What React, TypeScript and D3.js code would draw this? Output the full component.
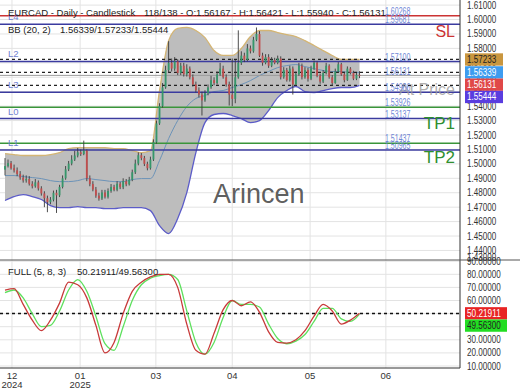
import React from 'react';
import * as d3 from 'd3';

// EURCAD daily candles (118 bars)
const opens = [
  1.4960, 1.4985, 1.5005, 1.4970, 1.4955, 1.4930, 1.4905, 1.4885, 1.4895, 1.4862,
  1.4845, 1.4872, 1.4830, 1.4795, 1.4762, 1.4735, 1.4752, 1.4800, 1.4782, 1.4840,
  1.4900, 1.4962, 1.5002, 1.5030, 1.5058, 1.5080, 1.5068, 1.5092, 1.4900, 1.4860,
  1.4822, 1.4780, 1.4760, 1.4802, 1.4772, 1.4812, 1.4840, 1.4820, 1.4862, 1.4838,
  1.4880, 1.4858, 1.4890, 1.4942, 1.5002, 1.5060, 1.5040, 1.5000, 1.4970, 1.5030,
  1.5150, 1.5280, 1.5400, 1.5530, 1.5650, 1.5700, 1.5660, 1.5710, 1.5630, 1.5680,
  1.5620, 1.5660, 1.5600, 1.5550, 1.5510, 1.5480, 1.5440, 1.5490, 1.5530, 1.5580,
  1.5560, 1.5620, 1.5660, 1.5600, 1.5550, 1.5480, 1.5450, 1.5600, 1.5700, 1.5750,
  1.5720, 1.5800, 1.5780, 1.5860, 1.5900, 1.5750, 1.5700, 1.5740, 1.5680, 1.5720,
  1.5700, 1.5730, 1.5600, 1.5650, 1.5580, 1.5660, 1.5550, 1.5620, 1.5680, 1.5600,
  1.5650, 1.5590, 1.5660, 1.5700, 1.5610, 1.5570, 1.5630, 1.5680, 1.5600, 1.5560,
  1.5640, 1.5690, 1.5620, 1.5580, 1.5660, 1.5630, 1.5590, 1.56167,
];
const highs = [
  1.5040, 1.5030, 1.5020, 1.4995, 1.4975, 1.4950, 1.4925, 1.4920, 1.4915, 1.4880,
  1.4895, 1.4885, 1.4845, 1.4810, 1.4780, 1.4770, 1.4815, 1.4820, 1.4855, 1.4920,
  1.4985, 1.5020, 1.5060, 1.5090, 1.5110, 1.5100, 1.5161, 1.5100, 1.4920, 1.4880,
  1.4840, 1.4800, 1.4820, 1.4820, 1.4830, 1.4860, 1.4855, 1.4880, 1.4875, 1.4900,
  1.4895, 1.4910, 1.4960, 1.5030, 1.5080, 1.5075, 1.5055, 1.5015, 1.5050, 1.5170,
  1.5300, 1.5420, 1.5560, 1.5680, 1.5850, 1.5730, 1.5740, 1.5725, 1.5700, 1.5700,
  1.5690, 1.5675, 1.5620, 1.5570, 1.5530, 1.5500, 1.5510, 1.5550, 1.5610, 1.5600,
  1.5640, 1.5700, 1.5680, 1.5620, 1.5570, 1.5730, 1.5720, 1.5925, 1.5780, 1.5770,
  1.5830, 1.5820, 1.5880, 1.5945, 1.5920, 1.5770, 1.5760, 1.5760, 1.5740, 1.5735,
  1.5750, 1.5745, 1.5670, 1.5665, 1.5680, 1.5675, 1.5640, 1.5700, 1.5695, 1.5670,
  1.5665, 1.5680, 1.5715, 1.5710, 1.5625, 1.5650, 1.5700, 1.5690, 1.5615, 1.5660,
  1.5705, 1.5700, 1.5635, 1.5675, 1.5670, 1.5645, 1.5630, 1.56421,
];
const lows = [
  1.4920, 1.4975, 1.4960, 1.4940, 1.4915, 1.4890, 1.4870, 1.4870, 1.4850, 1.4830,
  1.4835, 1.4815, 1.4780, 1.4700, 1.4665, 1.4720, 1.4740, 1.4660, 1.4770, 1.4830,
  1.4890, 1.4950, 1.4990, 1.5020, 1.5045, 1.5055, 1.5060, 1.4880, 1.4845, 1.4810,
  1.4765, 1.4745, 1.4750, 1.4760, 1.4760, 1.4800, 1.4810, 1.4810, 1.4825, 1.4825,
  1.4845, 1.4850, 1.4880, 1.4930, 1.4990, 1.5025, 1.4985, 1.4955, 1.4960, 1.5020,
  1.5140, 1.5270, 1.5390, 1.5520, 1.5630, 1.5640, 1.5645, 1.5615, 1.5615, 1.5605,
  1.5605, 1.5585, 1.5535, 1.5495, 1.5460, 1.5335, 1.5430, 1.5475, 1.5520, 1.5545,
  1.5550, 1.5610, 1.5590, 1.5535, 1.5404, 1.5400, 1.5420, 1.5590, 1.5685, 1.5705,
  1.5710, 1.5765, 1.5770, 1.5850, 1.5740, 1.5680, 1.5690, 1.5665, 1.5670, 1.5690,
  1.5690, 1.5585, 1.5590, 1.5570, 1.5570, 1.5480, 1.5540, 1.5610, 1.5585, 1.5590,
  1.5570, 1.5580, 1.5650, 1.5600, 1.5555, 1.5560, 1.5620, 1.5590, 1.5540, 1.5555,
  1.5630, 1.5610, 1.5565, 1.5575, 1.5620, 1.5580, 1.5580, 1.55940,
];
const closes = [
  1.4985, 1.5005, 1.4970, 1.4955, 1.4930, 1.4905, 1.4885, 1.4895, 1.4862, 1.4845,
  1.4872, 1.4830, 1.4795, 1.4762, 1.4735, 1.4752, 1.4800, 1.4782, 1.4840, 1.4900,
  1.4962, 1.5002, 1.5030, 1.5058, 1.5080, 1.5068, 1.5092, 1.4900, 1.4860, 1.4822,
  1.4780, 1.4760, 1.4802, 1.4772, 1.4812, 1.4840, 1.4820, 1.4862, 1.4838, 1.4880,
  1.4858, 1.4890, 1.4942, 1.5002, 1.5060, 1.5040, 1.5000, 1.4970, 1.5030, 1.5150,
  1.5280, 1.5400, 1.5530, 1.5650, 1.5700, 1.5660, 1.5710, 1.5630, 1.5680, 1.5620,
  1.5660, 1.5600, 1.5550, 1.5510, 1.5480, 1.5440, 1.5490, 1.5530, 1.5580, 1.5560,
  1.5620, 1.5660, 1.5600, 1.5550, 1.5480, 1.5450, 1.5600, 1.5700, 1.5750, 1.5720,
  1.5800, 1.5780, 1.5860, 1.5900, 1.5750, 1.5700, 1.5740, 1.5680, 1.5720, 1.5700,
  1.5730, 1.5600, 1.5650, 1.5580, 1.5660, 1.5550, 1.5620, 1.5680, 1.5600, 1.5650,
  1.5590, 1.5660, 1.5700, 1.5610, 1.5570, 1.5630, 1.5680, 1.5600, 1.5560, 1.5640,
  1.5690, 1.5620, 1.5580, 1.5660, 1.5630, 1.5590, 1.56167, 1.56131,
];

// Bollinger (20, 2) and Full stochastic (5, 8, 3), read every 3rd bar
const sampleStep = 3;
const bbUpper = [
  1.5071, 1.5064, 1.5058, 1.5058, 1.5058, 1.5064, 1.5078, 1.5106, 1.5113, 1.5113,
  1.5113, 1.5113, 1.5106, 1.5106, 1.5092, 1.5078, 1.5092, 1.5508, 1.5854, 1.5938,
  1.5945, 1.5924, 1.5875, 1.5785, 1.5751, 1.5751, 1.5799, 1.5882, 1.5924, 1.5924,
  1.5910, 1.5896, 1.5882, 1.5854, 1.5820, 1.5785, 1.5751, 1.5723, 1.5723, 1.57233,
];
const bbMid = [
  1.4919, 1.4919, 1.4912, 1.4905, 1.4898, 1.4884, 1.4877, 1.4877, 1.4884, 1.4898,
  1.4891, 1.4884, 1.4877, 1.4877, 1.4891, 1.4898, 1.4898, 1.5023, 1.5175, 1.5300,
  1.5397, 1.5453, 1.5473, 1.5501, 1.5508, 1.5529, 1.5550, 1.5577, 1.5612, 1.5640,
  1.5667, 1.5681, 1.5688, 1.5674, 1.5660, 1.5647, 1.5640, 1.5640, 1.5633, 1.56339,
];
const bbLower = [
  1.4746, 1.4773, 1.4787, 1.4773, 1.4753, 1.4711, 1.4697, 1.4697, 1.4704, 1.4697,
  1.4697, 1.4690, 1.4690, 1.4697, 1.4697, 1.4697, 1.4676, 1.4572, 1.4517, 1.4621,
  1.4801, 1.5078, 1.5286, 1.5342, 1.5349, 1.5335, 1.5314, 1.5286, 1.5300, 1.5369,
  1.5459, 1.5508, 1.5536, 1.5501, 1.5494, 1.5508, 1.5522, 1.5529, 1.5529, 1.55444,
];
const stochK = [
  68, 69, 57, 45, 37, 45, 58, 74, 72, 62,
  41, 20, 28, 50, 67, 74, 78, 80, 80, 70,
  42, 22, 19, 35, 53, 60, 56, 59, 51, 36,
  28, 27.5, 30, 37, 48, 57, 52, 42, 45, 50.21911,
];
const stochD = [
  66, 68, 62, 50, 40, 41, 52, 68, 76, 67,
  48, 27, 22, 40, 60, 72, 77, 79, 80, 76,
  52, 28, 19, 28, 47, 60, 57, 57, 55, 42,
  31, 27, 29, 34, 44, 54, 54, 46, 44, 49.563,
];

// axis ticks
const priceTicks = [1.61, 1.6, 1.59, 1.58, 1.57, 1.56, 1.55, 1.54, 1.53, 1.52, 1.51, 1.5, 1.49, 1.48, 1.47, 1.46, 1.45, 1.44, 1.43];
const oscTicks = [90, 80, 70, 60, 50, 40, 30, 20, 10];
const monthLabels = ['12', '01', '03', '04', '05', '06'];
const yearLabels = ['2024', '2025', '', '', '', ''];
const monthBars = [2.3, 24.8, 49.8, 75, 100.7, 125.7];

// horizontal levels
const levelValues = [1.60268, 1.59681, 1.571, 1.56131, 1.54966, 1.53926, 1.53137, 1.51437, 1.50965];
const levelNames = ['', 'L4', 'L2', '', 'L3', '', 'L0', '', 'L1'];
const levelKinds = ['sl', 'level', 'level', 'close', 'level', 'tp', 'level', 'tp', 'level'];
const bbNow = [1.57233, 1.56339, 1.55444];
const priceBoxes = [1.57233, 1.56339, 1.56131, 1.55444];
const priceBoxFill = ['#c9963f', '#3d9cf0', '#e04848', '#5a3ddf'];
const priceBoxText = ['#222', '#fff', '#fff', '#fff'];
const oscBoxes = [50.21911, 49.563];
const oscBoxFill = ['#e82424', '#22dd22'];
const oscBoxText = ['#fff', '#222'];

const kindColor: Record<string, string> = { sl: '#cc3333', level: '#3b3b9f', tp: '#3a953a', close: '#9a9a9a' };

const W = 520;
const H = 390;
const plotR = 460;
const mainBottom = 260;
const oscTop = 260;
const oscBottom = 368;
const sans = "'Liberation Sans', Arial, sans-serif";

// the chart's axis numbers are set in a condensed face; squeeze the glyphs to match
const squeeze = (s: string, perDigit: number) => {
  const digits = s.replace(/[^0-9]/g, '').length;
  return digits * perDigit + (s.length - digits) * perDigit * 0.5;
};

function stackBoxes(ys: number[], h: number) {
  const out: number[] = [];
  ys.forEach((v, i) => {
    out.push(i === 0 ? v : Math.max(v, out[i - 1] + h));
  });
  return out;
}

export default function App() {
  const x = d3.scaleLinear().domain([0, 117]).range([5, 359.5]);
  const y = d3.scaleLinear().domain([1.43, 1.61]).range([264.9, 5.1]);
  const yo = d3.scaleLinear().domain([10, 90]).range([366, 261.2]);

  const sx = (_: number, j: number) => x(j * sampleStep);
  const band = d3.area<number>().x(sx).y0((_, j) => y(bbLower[j])).y1((d) => y(d)).curve(d3.curveMonotoneX);
  const priceLine = d3.line<number>().x(sx).y((d) => y(d)).curve(d3.curveMonotoneX);
  const oscLine = d3.line<number>().x(sx).y((d) => yo(d)).curve(d3.curveMonotoneX);

  const boxH = 12.3;
  const pbY = stackBoxes(priceBoxes.map((v) => y(v)), boxH);
  const obY = stackBoxes(oscBoxes.map((v) => yo(v)), boxH);

  const axisText = (s: string, key: string, ty: number, fill = '#333') => (
    <text key={key} x={467} y={ty} dy="0.35em" fontSize={10} fill={fill}
      textLength={squeeze(s, 4.5)} lengthAdjust="spacingAndGlyphs">{s}</text>
  );

  return (
    <svg width={W} height={H} style={{ position: 'absolute', left: 0, top: 0, background: '#fff' }} fontFamily={sans}>
      <defs>
        <clipPath id="mainClip"><rect x={0} y={0} width={plotR} height={mainBottom} /></clipPath>
        <clipPath id="oscClip"><rect x={0} y={oscTop} width={plotR} height={oscBottom - oscTop} /></clipPath>
      </defs>

      {/* grid */}
      <g clipPath="url(#mainClip)" stroke="#e3e3e3" strokeWidth={1}>
        {priceTicks.map((t) => <line key={t} x1={0} x2={plotR} y1={y(t)} y2={y(t)} />)}
        {monthBars.map((b) => <line key={b} x1={x(b)} x2={x(b)} y1={0} y2={mainBottom} />)}
      </g>
      <g clipPath="url(#oscClip)" stroke="#e3e3e3" strokeWidth={1}>
        {oscTicks.map((t) => <line key={t} x1={0} x2={plotR} y1={yo(t)} y2={yo(t)} />)}
        {monthBars.map((b) => <line key={b} x1={x(b)} x2={x(b)} y1={oscTop} y2={oscBottom} />)}
      </g>

      {/* main panel */}
      <g clipPath="url(#mainClip)">
        <path d={band(bbUpper) || ''} fill="#bdbdbd" />
        <path d={priceLine(bbUpper) || ''} fill="none" stroke="#d4b574" strokeWidth={1.3} />
        <path d={priceLine(bbLower) || ''} fill="none" stroke="#5c5cc8" strokeWidth={1.3} />
        <path d={priceLine(bbMid) || ''} fill="none" stroke="#6c93b8" strokeWidth={1} />

        {levelValues.map((v, i) => (
          <line key={v} x1={0} x2={plotR} y1={y(v)} y2={y(v)} stroke={kindColor[levelKinds[i]]}
            strokeWidth={levelKinds[i] === 'close' ? 1 : 1.5} />
        ))}
        {bbNow.map((v) => (
          <line key={v} x1={0} x2={plotR} y1={y(v)} y2={y(v)} stroke="#222" strokeWidth={1.2} strokeDasharray="3,3" />
        ))}

        {closes.map((c, i) => {
          const o = opens[i];
          const up = c >= o;
          const top = y(Math.max(o, c));
          const bot = y(Math.min(o, c));
          const col = up ? '#35976a' : '#c04d4d';
          return (
            <g key={i}>
              <line x1={x(i)} x2={x(i)} y1={y(highs[i])} y2={y(lows[i])} stroke="#3a3a3a" strokeWidth={0.9} />
              <rect x={x(i) - 0.9} y={top} width={1.8} height={Math.max(1, bot - top)} fill={col} />
            </g>
          );
        })}

        <text x={213} y={203} fontSize={27} fill="#4a4a4a" fillOpacity={0.9}>Arincen</text>
        <text x={455} y={y(1.54966) + 3} fontSize={16} fill="#9a9a9a" fillOpacity={0.8} textAnchor="end">At Price</text>
        <text x={455} y={y(1.59681) + 13} fontSize={16} fill="#cc3333" textAnchor="end">SL</text>
        <text x={455} y={y(1.53137) + 10} fontSize={17} fill="#2f8f2f" textAnchor="end">TP1</text>
        <text x={455} y={y(1.50965) + 13} fontSize={17} fill="#2f8f2f" textAnchor="end">TP2</text>

        {levelValues.map((v) => {
          const s = v.toFixed(5);
          return (
            <text key={'lv' + v} x={385} y={y(v) - 0.8} fontSize={10} fill="#7088d6"
              textLength={squeeze(s, 3.9)} lengthAdjust="spacingAndGlyphs">{s}</text>
          );
        })}
        {levelValues.map((v, i) => levelNames[i] ? (
          <text key={'ln' + v} x={8} y={y(v) - 4} fontSize={9.5} fill="#6f7fd0">{levelNames[i]}</text>
        ) : null)}

        <text x={8} y={15.5} fontSize={9.5} fill="#222">EURCAD - Daily - Candlestick</text>
        <text x={144} y={15.5} fontSize={9.5} fill="#222">118/138 - O:1.56167 - H:1.56421 - L:1.55940 - C:1.56131</text>
        <text x={8} y={32.5} fontSize={9.5} fill="#222">BB (20, 2)</text>
        <text x={60} y={32.5} fontSize={9.5} fill="#222">1.56339/1.57233/1.55444</text>
      </g>

      {/* oscillator panel */}
      <g clipPath="url(#oscClip)">
        <line x1={0} x2={plotR} y1={yo(50)} y2={yo(50)} stroke="#111" strokeWidth={1.5} strokeDasharray="3,3" />
        <path d={oscLine(stochD) || ''} fill="none" stroke="#5ee05e" strokeWidth={1.3} />
        <path d={oscLine(stochK) || ''} fill="none" stroke="#c83a3a" strokeWidth={1.3} />
        <text x={8} y={275} fontSize={9.5} fill="#222">FULL (5, 8, 3)</text>
        <text x={77} y={275} fontSize={9.5} fill="#222">50.21911/49.56300</text>
      </g>

      {/* frame */}
      <line x1={plotR} x2={plotR} y1={0} y2={oscBottom} stroke="#333" strokeWidth={1} />
      <line x1={0} x2={W} y1={mainBottom} y2={mainBottom} stroke="#555" strokeWidth={1} />
      <line x1={0} x2={plotR} y1={oscBottom} y2={oscBottom} stroke="#333" strokeWidth={1} />

      {/* right axes */}
      <g>
        {priceTicks.map((t) => axisText(t.toFixed(5), 'pt' + t, Math.min(y(t), 257)))}
        {oscTicks.map((t) => axisText(t.toFixed(5), 'ot' + t, yo(t)))}
      </g>
      {priceBoxes.map((v, i) => (
        <g key={'pb' + v}>
          <rect x={465} y={pbY[i] - boxH / 2} width={38} height={boxH} fill={priceBoxFill[i]} />
          {axisText(v.toFixed(5), 'pbt' + v, pbY[i], priceBoxText[i])}
        </g>
      ))}
      {oscBoxes.map((v, i) => (
        <g key={'ob' + v}>
          <rect x={465} y={obY[i] - boxH / 2} width={42} height={boxH} fill={oscBoxFill[i]} />
          {axisText(v.toFixed(5), 'obt' + v, obY[i], oscBoxText[i])}
        </g>
      ))}

      {/* bottom axis */}
      <g fontSize={9.5} fill="#333" textAnchor="middle">
        {monthBars.map((b, i) => (
          <g key={b}>
            <text x={x(b)} y={379}>{monthLabels[i]}</text>
            {yearLabels[i] ? <text x={x(b)} y={388}>{yearLabels[i]}</text> : null}
          </g>
        ))}
      </g>
    </svg>
  );
}
